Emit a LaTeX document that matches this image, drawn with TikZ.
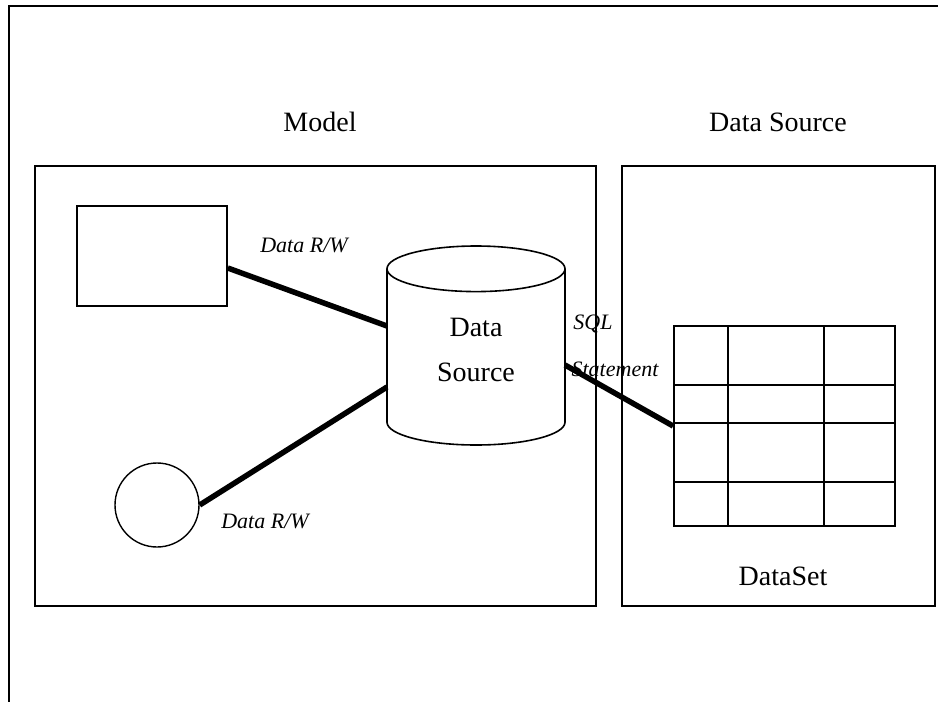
\documentclass[tikz,border=0pt]{standalone}
\usepackage{fontspec}
\setmainfont{Liberation Serif}
\usetikzlibrary{shapes.geometric}

\begin{document}
\begin{tikzpicture}[x=1pt, y=-1pt,
    panel/.style={draw, line width=2pt, inner sep=0pt},
    thing/.style={draw, line width=1.6pt, inner sep=0pt},
    link/.style={line width=5.5pt},
    cell/.style={line width=1.6pt},
    title/.style={font=\fontsize{28}{30}\selectfont},
    tag/.style={font=\fontsize{22}{24}\selectfont\itshape, inner sep=0pt}]
    \useasboundingbox (0,0) rectangle (938,702);

    % Frame
    \draw [line width=2.4pt] (9,702) -- (9,6) -- (938,6);

    % Panels and titles
    \node [panel, minimum width=561pt, minimum height=440pt] (model)  at (315.5,386) {};
    \node [panel, minimum width=313pt, minimum height=440pt] (source) at (778.5,386) {};
    \node [title] (modeltitle)  at (320,122) {Model};
    \node [title] (sourcetitle) at (778,122) {Data Source};
    \node [title] (settitle)    at (783,576) {DataSet};

    % Nodes {box, ball, store, table}
    \node [thing, minimum width=150pt, minimum height=100pt] (box)  at (152,256) {};
    \node [thing, circle, line width=1.4pt, minimum size=84pt] (ball) at (157,505) {};
    \node [cylinder, draw, line width=1.6pt, shape border rotate=90, aspect=0.54,
           minimum width=178pt, minimum height=199pt, anchor=shape center,
           align=center, text depth=22pt, font=\fontsize{28}{45}\selectfont] (store) at (476,345.5) {Data\\Source};
    \node [thing, line width=1.8pt, minimum width=221pt, minimum height=200pt] (table) at (784.5,426) {};

    % Table cells
    \foreach \dx in {55,151}
        \draw [cell] ([xshift=\dx pt]table.north west) -- ([xshift=\dx pt]table.south west);
    \foreach \dy in {60,98,157}
        \draw [cell] ([yshift=-\dy pt]table.north west) -- ([yshift=-\dy pt]table.north east);

    % Paths
    \draw [link] ([yshift=-12pt]box.east) -- ([xshift=-89pt,yshift=19.5pt]store.shape center);
    \draw [link] (ball.east) -- ([xshift=-89pt,yshift=-41.5pt]store.shape center);
    \draw [link] ([xshift=89pt,yshift=-19.5pt]store.shape center) -- (table.west);

    % Labels
    \node [tag] (tag1) at (304,245) {Data R/W};
    \node [tag] (tag2) at (265,521) {Data R/W};
    \node [tag] (tag3) at (593,324) {SQL};
    \node [tag] (tag4) at (615,369) {Statement};
\end{tikzpicture}
\end{document}
